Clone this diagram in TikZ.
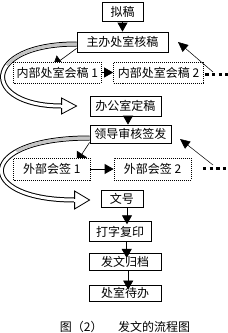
\documentclass[tikz,border=0pt]{standalone}
\usepackage{fontspec}
\newfontfamily\cjk{Noto Sans CJK SC}
\usetikzlibrary{arrows.meta,backgrounds}
\begin{document}
\begin{tikzpicture}[x=1pt,y=-1pt,
  box/.style={draw,line width=0.8pt,fill=white,inner sep=0pt,font=\cjk\fontsize{12}{12}\selectfont},
  dotbox/.style={box,dash pattern=on 0.8pt off 1.2pt},
  arr/.style={line width=0.8pt,-{Triangle[length=9pt,width=10pt]}},
  slant/.style={line width=0.6pt,-{Triangle[length=9pt,width=12pt]}},
  back/.style={line width=0.5pt,-{Triangle[length=10pt,width=9pt]}},
  dots/.style={line width=3.3pt,dash pattern=on 3.3pt off 3.3pt},
  band/.style={line width=1pt,double=white,double distance=3pt},
  shade/.style={line width=3pt,gray!45,dash pattern=on 75pt off 600pt},
]
\useasboundingbox (0,0) rectangle (228,333);

\node[box,minimum width=41pt,minimum height=19pt] (nigao) at (122.5,11.5) {拟稿};
\node[box,minimum width=91pt,minimum height=20pt] (zhuban) at (122.5,42) {主办处室核稿};
\node[dotbox,minimum width=87.5pt,minimum height=21pt] (neibu1) at (57.25,72.5) {内部处室会稿 1};
\node[dotbox,minimum width=90pt,minimum height=21pt] (neibu2) at (158.5,72.5) {内部处室会稿 2};
\node[box,minimum width=71pt,minimum height=20pt] (dinggao) at (125.5,106) {办公室定稿};

\node[box,minimum width=81pt,minimum height=18pt] (lingdao) at (130.5,134) {领导审核签发};
\node[dotbox,minimum width=76.5pt,minimum height=22pt] (waibu1) at (51.75,169) {外部会签 1};
\node[dotbox,minimum width=77pt,minimum height=22pt] (waibu2) at (152.5,169) {外部会签 2};
\node[box,minimum width=42pt,minimum height=17pt] (wenhao) at (122,198.5) {文号};

\node[box,minimum width=61.7pt,minimum height=20pt] (daizi) at (120.2,231.7) {打字复印};
\node[box,minimum width=71.7pt,minimum height=16.7pt] (guidang) at (125.2,261.7) {发文归档};
\node[box,minimum width=71.7pt,minimum height=16.7pt] (daiban) at (125.2,293.3) {处室待办};

\node[font=\cjk\fontsize{12}{12}\selectfont] (caption) at (125,326.5) {图（2）\hspace{1.3em}发文的流程图};

\coordinate (dotsA) at (228,74.5);
\coordinate (backA) at (213,72);
\coordinate (tipA) at (178,42);
\coordinate (dotsC) at (203,168.5);
\coordinate (dotsD) at (228,168.5);
\coordinate (backB) at (213,165);
\coordinate (tipB) at (180,139);

% main line
\draw[arr] (nigao) -- (zhuban);
\draw[arr] ([xshift=2.5pt]dinggao.south) -- ([xshift=-2.5pt]lingdao.north);
\draw[arr,shorten >=-3pt] ([xshift=5pt]wenhao.south) -- ([xshift=6.8pt]daizi.north);
\draw[arr,shorten >=-5pt] ([xshift=6.5pt]daizi.south) -- ([xshift=1.5pt]guidang.north);
\draw[arr,shorten >=-5pt] ([xshift=3pt]guidang.south) -- ([xshift=3pt]daiban.north);

% co-signing
\draw[arr] (neibu1) -- (neibu2);
\draw[arr] (waibu1) -- (waibu2);
\draw[dots] ([xshift=1.5pt,yshift=-2pt]neibu2.east) -- (dotsA);
\draw[dots] (dotsC) -- (dotsD);
\draw[back] (backA) -- (tipA);
\draw[back] (backB) -- (tipB);

\begin{pgfonlayer}{background}
\draw[slant] ([yshift=4pt]zhuban.south west) -- ([xshift=-4.25pt,yshift=-4pt]neibu1.north);
\draw[slant] ([yshift=1pt]lingdao.south west) -- ([xshift=25.25pt,yshift=-4pt]waibu1.north);
\end{pgfonlayer}

% return arrows
\draw[band] ([yshift=-2pt]zhuban.west) .. controls +(-96,0) and +(-81,0) .. ([xshift=-28pt]dinggao.west);
\draw[shade] ([yshift=-2pt]zhuban.west) .. controls +(-96,0) and +(-81,0) .. ([xshift=-28pt]dinggao.west);
\draw[line width=0.8pt,fill=white] ([xshift=-28pt,yshift=8pt]dinggao.west) -- ([xshift=-13pt]dinggao.west) -- ([xshift=-28pt,yshift=-8pt]dinggao.west) -- cycle;
\draw[white,line width=3pt] ([xshift=-28.6pt]dinggao.west) -- ([xshift=-26.5pt]dinggao.west);

\draw[band] ([yshift=-4pt]lingdao.west) .. controls +(-115,0) and +(-100,0) .. ([xshift=-26pt,yshift=-1.5pt]wenhao.west);
\draw[shade] ([yshift=-4pt]lingdao.west) .. controls +(-115,0) and +(-100,0) .. ([xshift=-26pt,yshift=-1.5pt]wenhao.west);
\draw[line width=0.8pt,fill=white] ([xshift=-26pt,yshift=7.5pt]wenhao.west) -- ([xshift=-11pt,yshift=-1.5pt]wenhao.west) -- ([xshift=-26pt,yshift=-10.5pt]wenhao.west) -- cycle;
\draw[white,line width=3pt] ([xshift=-26.6pt,yshift=-1.5pt]wenhao.west) -- ([xshift=-24.5pt,yshift=-1.5pt]wenhao.west);
\end{tikzpicture}
\end{document}
